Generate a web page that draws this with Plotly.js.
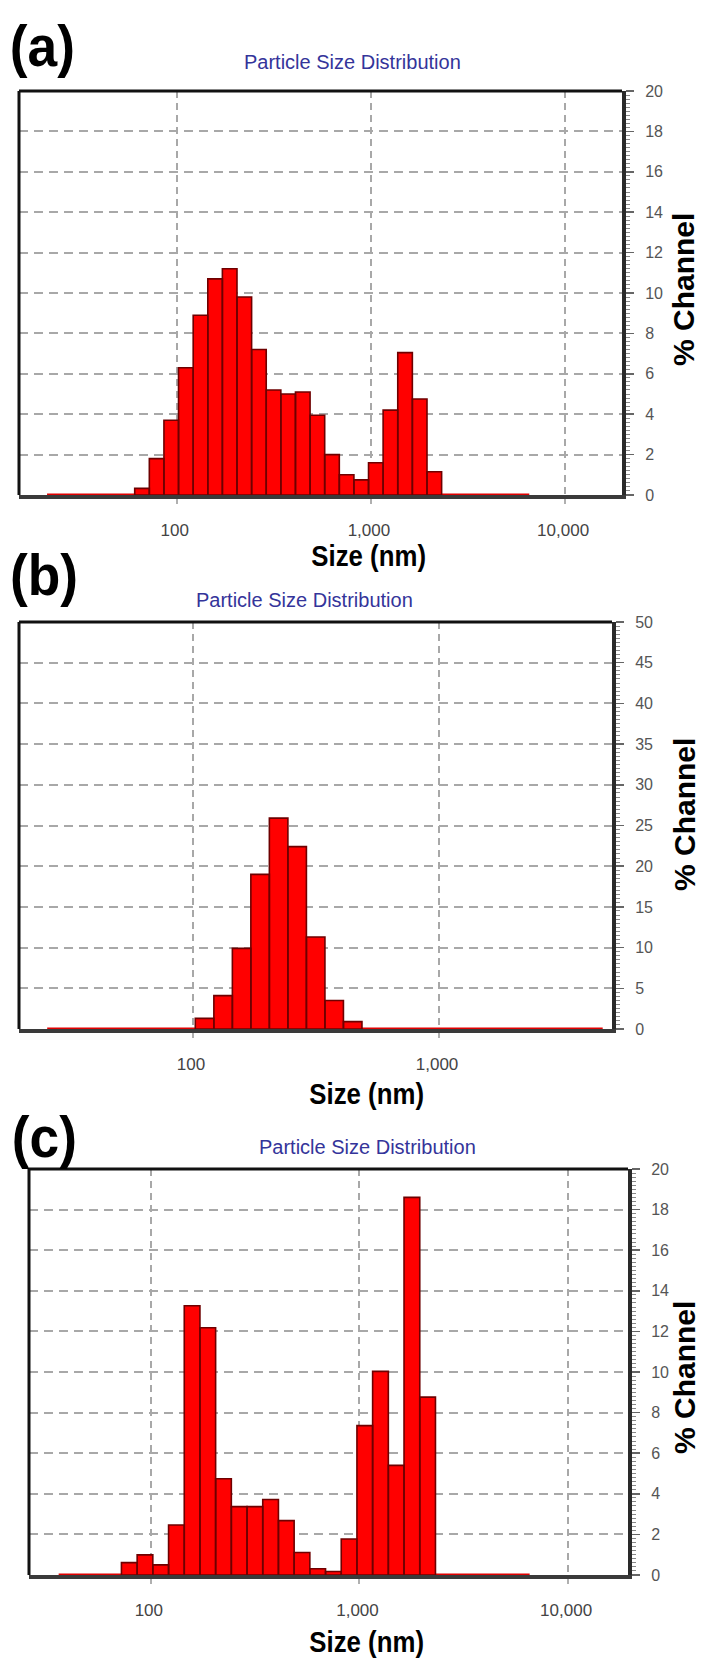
<!DOCTYPE html>
<html><head><meta charset="utf-8">
<script src="https://cdn.plot.ly/plotly-3.0.1.min.js"></script>
<style>html,body{margin:0;padding:0;background:#fff;} #chart{width:704px;height:1658px;}</style>
</head><body><div id="chart"></div>
<script>
// Instrument channel boundaries (nm)
const channelEdgesNm = [21.50, 25.56, 30.40, 36.15, 42.99, 51.12, 60.79, 72.29, 85.97, 102.2, 121.6, 144.6, 171.9, 204.4, 243.1, 289.1, 343.8, 408.8, 486.2, 578.2, 687.6, 817.6, 972.3, 1156, 1375, 1635, 1945, 2313, 2750, 3271, 3890, 4626, 5501, 6541];
// % Channel per channel (null = not shown)
const pctA = [0, 0, 0, 0, 0, 0, 0.33, 1.8, 3.7, 6.3, 8.9, 10.7, 11.2, 9.8, 7.2, 5.2, 5.0, 5.1, 3.95, 2.0, 1.0, 0.75, 1.6, 4.2, 7.05, 4.75, 1.15, 0, 0, 0, 0, 0, 0];
const pctB = [null, 0, 0, 0, 0, 0, 0, 0, 0, 1.3, 4.1, 9.9, 19.0, 25.9, 22.4, 11.3, 3.5, 0.9, 0, 0, 0, 0, 0, 0, 0, 0, 0, 0, 0, 0, 0, null, null];
const pctC = [null, null, null, 0, 0, 0, 0, 0.61, 0.99, 0.5, 2.46, 13.26, 12.18, 4.74, 3.37, 3.37, 3.72, 2.68, 1.11, 0.31, 0.17, 1.77, 7.36, 10.03, 5.4, 18.6, 8.76, 0, 0, 0, 0, 0, 0];
const xTickVals = [100, 1000, 10000];
const xTickText = ['100', '1,000', '10,000'];
const yMax = [20, 50, 20];
const yStep = [2, 5, 2];
const yMinorStep = [0.2, 0.5, 0.2];
const panelLabels = ['(a)', '(b)', '(c)'];
const chartTitle = 'Particle Size Distribution';
const xTitle = 'Size (nm)';
const yTitle = '% Channel';

const W = 704, H = 1658;
const px = v => v / W, py = v => 1 - v / H;
const panels = [
  {data: pctA, box: [19, 622, 91, 495], xr: [1.188, 4.293], label: [5, 46], title: [352, 62], xt: [368, 556], yt: [684, 290]},
  {data: pctB, box: [19, 612, 622, 1029], xr: [1.293, 3.703], label: [5, 574], title: [304, 600], xt: [366, 1093], yt: [684, 815]},
  {data: pctC, box: [29, 628, 1169, 1575], xr: [1.416, 4.287], label: [7, 1136], title: [367, 1147], xt: [366, 1641], yt: [684, 1378]}
];

const SANS = '"Liberation Sans", Arial, sans-serif';
const traces = [], shapes = [], annotations = [];
const layout = {width: W, height: H, margin: {l: 0, r: 0, t: 0, b: 0}, paper_bgcolor: '#fff', plot_bgcolor: '#fff', showlegend: false, font: {family: SANS}};

panels.forEach((p, k) => {
  const sx = k === 0 ? '' : String(k + 1);
  const xa = 'x' + sx, ya = 'y' + sx;
  const gridStyle = {showgrid: true, gridcolor: '#a8a8a8', gridwidth: 2};
  layout['xaxis' + sx] = Object.assign({}, gridStyle, {
    type: 'log', range: p.xr, domain: [px(p.box[0]), px(p.box[1])], anchor: ya,
    griddash: '7px,5px', tickvals: xTickVals, ticktext: xTickText,
    ticks: 'outside', ticklen: 5, tickcolor: '#b0b0b0', tickwidth: 2,
    tickfont: {size: 17, color: '#444', family: SANS}, ticklabelstandoff: 12, ticklabelshift: -2,
    showline: true, linecolor: '#3a3a3a', linewidth: 4, layer: 'below traces',
    zeroline: false, fixedrange: true
  });
  layout['yaxis' + sx] = Object.assign({}, gridStyle, {
    range: [0, yMax[k]], dtick: yStep[k], tick0: 0, domain: [py(p.box[3]), py(p.box[2])], anchor: xa, side: 'right',
    griddash: '9px,6px',
    ticks: 'outside', ticklen: 8, tickwidth: 1.5, tickcolor: '#666',
    minor: {dtick: yMinorStep[k], ticks: 'outside', ticklen: 4, tickcolor: '#888', tickwidth: 1, showgrid: false},
    showline: true, linecolor: '#2a2a2a', linewidth: 4,
    tickfont: {size: 16, color: '#555', family: SANS}, ticklabelstandoff: 8,
    zeroline: false, fixedrange: true
  });
  shapes.push({type: 'line', xref: xa + ' domain', yref: ya + ' domain', x0: 0, x1: 1, y0: 1, y1: 1, line: {color: '#111', width: 3}, layer: 'above'});
  shapes.push({type: 'line', xref: xa + ' domain', yref: ya + ' domain', x0: 0, x1: 0, y0: 0, y1: 1, line: {color: '#111', width: 3}, layer: 'above'});

  // zero baseline over measured channels
  let first = -1, last = -1;
  p.data.forEach((v, i) => { if (v !== null) { if (first < 0) first = i; last = i; } });
  traces.push({type: 'scatter', mode: 'lines', xaxis: xa, yaxis: ya, x: [channelEdgesNm[first], channelEdgesNm[last + 1]], y: [0, 0], line: {color: '#e00000', width: 3}, hoverinfo: 'skip'});
  // bars as filled rectangles on the log axis
  const xs = [], ys = [];
  p.data.forEach((v, i) => {
    if (v === null || v <= 0) return;
    const L = channelEdgesNm[i], R = channelEdgesNm[i + 1];
    xs.push(L, L, R, R, L, null); ys.push(0, v, v, 0, 0, null);
  });
  traces.push({type: 'scatter', mode: 'lines', xaxis: xa, yaxis: ya, x: xs, y: ys, fill: 'toself', fillcolor: '#ff0000', line: {color: '#6e0000', width: 1.6}, connectgaps: false, hoverinfo: 'skip'});

  annotations.push({xref: 'paper', yref: 'paper', x: px(p.label[0]), y: py(p.label[1]), xanchor: 'left', yanchor: 'middle', showarrow: false, text: '<b>' + panelLabels[k] + '</b>', font: {size: 58, color: '#000', family: SANS}});
  annotations.push({xref: 'paper', yref: 'paper', x: px(p.title[0]), y: py(p.title[1]), xanchor: 'center', yanchor: 'middle', showarrow: false, text: chartTitle, font: {size: 20, color: '#34349a', family: SANS}});
  annotations.push({xref: 'paper', yref: 'paper', x: px(p.xt[0]), y: py(p.xt[1]), xanchor: 'center', yanchor: 'middle', showarrow: false, text: '<b>' + xTitle + '</b>', font: {size: 30, color: '#000', family: SANS}});
  annotations.push({xref: 'paper', yref: 'paper', x: px(p.yt[0]), y: py(p.yt[1]), xanchor: 'center', yanchor: 'middle', showarrow: false, textangle: -90, text: '<b>' + yTitle + '</b>', font: {size: 30, color: '#000', family: SANS}});
});
layout.shapes = shapes;
layout.annotations = annotations;
Plotly.newPlot('chart', traces, layout, {staticPlot: true, displayModeBar: false}).then(() => {
  // condensed look for the x-axis titles and panel letters
  document.querySelectorAll('#chart text.annotation-text').forEach(t => {
    const s = t.textContent;
    if (s === xTitle || panelLabels.includes(s)) {
      t.style.transformBox = 'fill-box';
      t.style.transformOrigin = 'center';
      t.style.transform = s === xTitle ? 'scaleX(0.86)' : 'scaleX(0.92)';
    }
  });
});
</script></body></html>
